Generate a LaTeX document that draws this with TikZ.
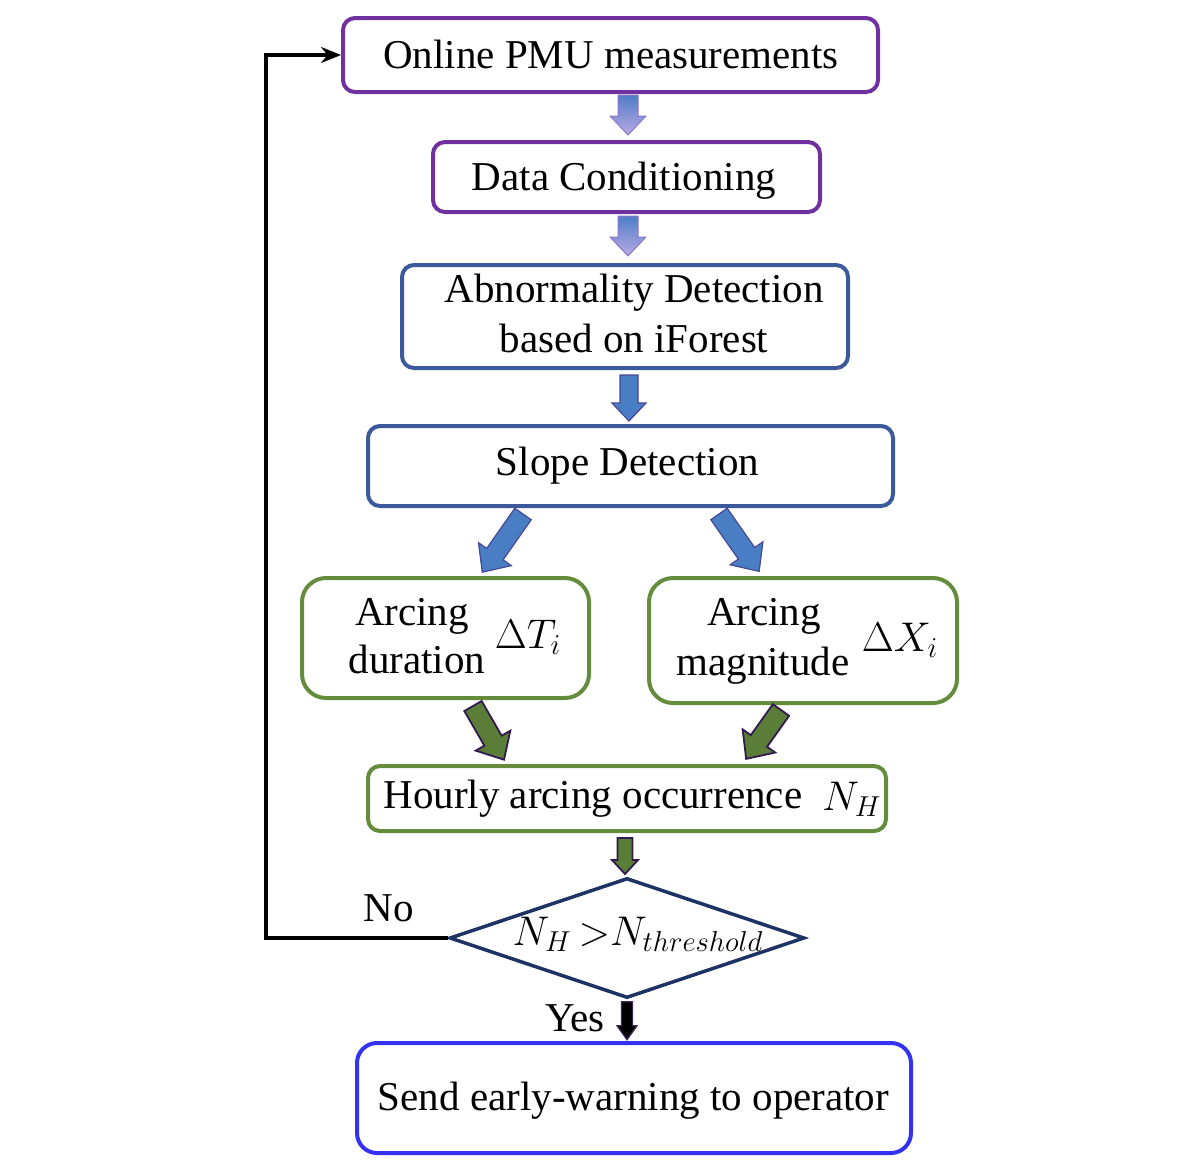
\documentclass[tikz,border=0pt]{standalone}
\usepackage{fontspec}
\setmainfont{Liberation Serif}
\usetikzlibrary{shapes.geometric,arrows.meta,calc}
\definecolor{boxpurple}{RGB}{112,48,160}
\definecolor{boxblue}{RGB}{60,90,155}
\definecolor{boxgreen}{RGB}{100,140,60}
\definecolor{sendblue}{RGB}{50,50,240}
\definecolor{decnavy}{RGB}{30,50,100}
\definecolor{gradtop}{RGB}{80,125,200}
\definecolor{gradbot}{RGB}{185,170,228}
\definecolor{gradline}{RGB}{140,120,200}
\definecolor{arrblue}{RGB}{74,126,196}
\definecolor{arrblueline}{RGB}{70,70,150}
\definecolor{arrgreen}{RGB}{90,125,55}
\definecolor{arrgreenline}{RGB}{50,25,80}
\definecolor{arrblackline}{RGB}{60,40,90}
\tikzset{
  pics/barrow/.style n args={4}{code={
    \path[pic actions] (-#2,0) -- (#2,0) -- (#2,#1-#4) -- (#3,#1-#4) -- (0,#1)
      -- (-#3,#1-#4) -- (-#2,#1-#4) -- cycle;}},
  box/.style={draw, rounded corners=6pt, line width=2pt, inner sep=0pt, align=center},
  purplebox/.style={box, draw=boxpurple},
  bluebox/.style={box, draw=boxblue},
  greenbox/.style={box, draw=boxgreen, rounded corners=12pt},
  sendbox/.style={box, draw=sendblue, rounded corners=10pt},
  lbl/.style={inner sep=0pt, text height=0.7em, text depth=0.25em},
  gradarr/.style={draw=gradline, line width=0.5pt, top color=gradtop, bottom color=gradbot},
  bluearr/.style={draw=arrblueline, line width=0.6pt, fill=arrblue},
  greenarr/.style={draw=arrgreenline, line width=0.9pt, fill=arrgreen},
  blackarr/.style={draw=arrblackline, line width=0.6pt, fill=black},
  loopline/.style={draw=black, line width=1.8pt, -{Stealth[length=10pt,width=8pt]}},
}
\begin{document}
\begin{tikzpicture}[x=0.5pt, y=-0.5pt, font=\fontsize{20.5}{25}\selectfont]
\useasboundingbox (0,0) rectangle (1190,1164);
% boxes
\node[purplebox, minimum width=267.5pt, minimum height=37pt] (n1) at (610.5,55) {};
\node[lbl] (t1) at (611,64) {Online PMU measurements};
\node[purplebox, minimum width=193.5pt, minimum height=35pt] (n2) at (626.5,177) {};
\node[lbl] (t2) at (624,186) {Data Conditioning};
\node[bluebox, minimum width=223pt, minimum height=51.5pt] (n3) at (625,316.5) {};
\node[lbl] (t3a) at (634,298) {Abnormality Detection};
\node[lbl] (t3b) at (634,348) {based on iForest};
\node[bluebox, minimum width=262.5pt, minimum height=40pt] (n4) at (630.5,466) {};
\node[lbl] (t4) at (627.5,471) {Slope Detection};
\node[greenbox, minimum width=143.5pt, minimum height=60pt] (n5) at (445.5,638) {};
\node[lbl] (t5a) at (412,621) {Arcing};
\node[lbl] (t5b) at (417,669) {duration};
\node[lbl] (t5c) at (528,644) {$\Delta T_i$};
\node[greenbox, minimum width=154pt, minimum height=62.5pt] (n6) at (803,640.5) {};
\node[lbl] (t6a) at (764,621) {Arcing};
\node[lbl] (t6b) at (763,671) {magnitude};
\node[lbl] (t6c) at (900,647) {$\Delta X_i$};
\node[greenbox, rounded corners=6pt, minimum width=259pt, minimum height=32.5pt] (n7) at (627,798.5) {};
\node[lbl, anchor=west] (t7) at (383,804) {Hourly arcing occurrence};
\node[lbl] (t7b) at (852,806) {$N_H$};
\node[draw=decnavy, line width=1.75pt, shape=diamond, inner sep=0pt,
      minimum width=177.5pt, minimum height=60pt] (dec) at (627,938) {};
\node[lbl] (t8) at (638,941) {$N_H\,{>}N_{threshold}$};
\node[sendbox, minimum width=277pt, minimum height=55pt] (n9) at (634,1098) {};
\node[lbl] (t9) at (633.5,1106) {Send early-warning to operator};
\node[lbl] (no) at (389,917) {No};
\node[lbl] (yes) at (575,1027) {Yes};
% block arrows
\pic[gradarr] at ($(n2.north)+(1.5,-45)$) {barrow={40}{10}{18}{19}};
\pic[gradarr] at ($(n3.north)+(3,-47)$) {barrow={40}{10}{18}{19}};
\pic[bluearr] at ($(n4.north)+(-1.5,-49)$) {barrow={46}{9}{17}{18}};
\pic[bluearr, rotate=-35] at ($(n4.south)+(-107.5,6)$) {barrow={71}{10}{20}{22}};
\pic[bluearr, rotate=35] at ($(n4.south)+(88.5,6)$) {barrow={70}{10}{20}{22}};
\pic[greenarr, rotate=30] at ($(n5.south)+(27.5,6)$) {barrow={62}{10}{20}{22}};
\pic[greenarr, rotate=-35.5] at ($(n6.south)+(-22,5)$) {barrow={60}{10}{20}{22}};
\pic[greenarr] at ($(n7.south)+(-2,5)$) {barrow={36}{7.5}{13}{14}};
\pic[blackarr] at ($(dec.south)+(0,2)$) {barrow={38}{5.5}{10}{14}};
% loop back
\draw[loopline] (dec.west) -- ++(-182,0) |- (n1.west);
\end{tikzpicture}
\end{document}
